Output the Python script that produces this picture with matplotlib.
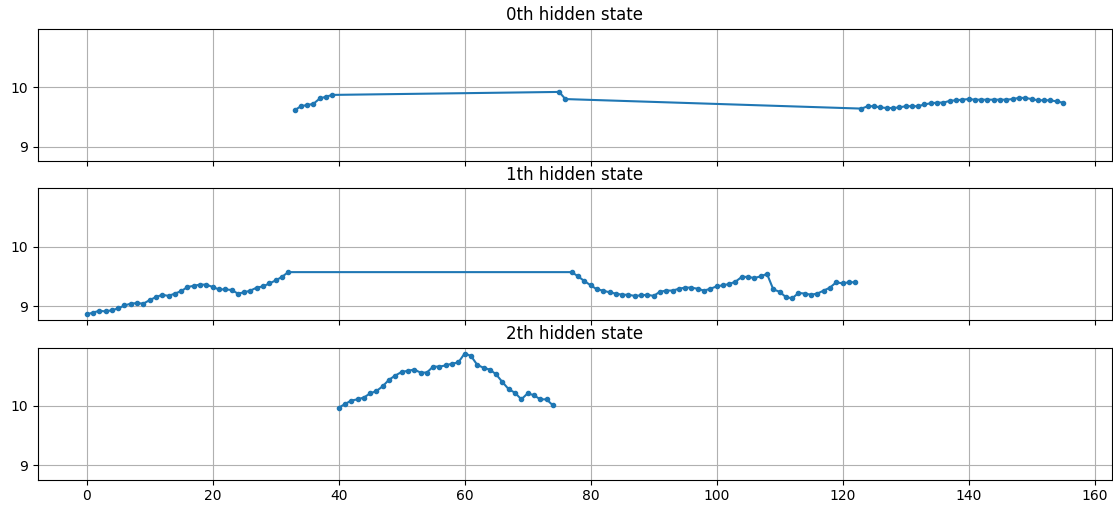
import matplotlib
matplotlib.use("Agg")
import matplotlib.pyplot as plt

# time steps assigned to each hidden state
x_state0 = list(range(33, 40)) + [75, 76] + list(range(123, 156))
x_state1 = list(range(0, 33)) + list(range(77, 123))
x_state2 = list(range(40, 75))

y_state0 = [9.61, 9.68, 9.70, 9.72, 9.81, 9.84, 9.87,
            9.92, 9.80,
            9.64, 9.68, 9.68, 9.66, 9.65, 9.65, 9.66, 9.68, 9.68, 9.68,
            9.71, 9.73, 9.74, 9.74, 9.77, 9.78, 9.79, 9.80, 9.79, 9.79,
            9.79, 9.79, 9.79, 9.79, 9.80, 9.82, 9.82, 9.80, 9.78, 9.78,
            9.78, 9.76, 9.74]

y_state1 = [8.86, 8.89, 8.92, 8.91, 8.93, 8.96, 9.01, 9.04, 9.05, 9.04,
            9.10, 9.15, 9.19, 9.17, 9.21, 9.25, 9.32, 9.34, 9.36, 9.36,
            9.32, 9.28, 9.28, 9.27, 9.21, 9.23, 9.26, 9.31, 9.33, 9.38,
            9.43, 9.49, 9.57,
            9.57, 9.50, 9.42, 9.35, 9.28, 9.26, 9.23, 9.21, 9.19, 9.19,
            9.17, 9.18, 9.19, 9.17, 9.24, 9.26, 9.26, 9.29, 9.31, 9.31,
            9.29, 9.26, 9.29, 9.33, 9.35, 9.37, 9.41, 9.49, 9.49, 9.47,
            9.50, 9.54, 9.28, 9.24, 9.15, 9.13, 9.22, 9.21, 9.19, 9.21,
            9.26, 9.31, 9.40, 9.38, 9.40, 9.40]

y_state2 = [9.97, 10.03, 10.09, 10.11, 10.14, 10.21, 10.25, 10.33, 10.44, 10.51,
            10.57, 10.59, 10.61, 10.56, 10.56, 10.66, 10.66, 10.68, 10.71, 10.73,
            10.88, 10.84, 10.69, 10.64, 10.61, 10.53, 10.40, 10.28, 10.22, 10.11,
            10.21, 10.18, 10.11, 10.11, 10.01]

xs = [x_state0, x_state1, x_state2]
ys = [y_state0, y_state1, y_state2]

fig, axes = plt.subplots(3, 1, sharex=True, sharey=True, figsize=(11.13, 5.05), dpi=100)
fig.subplots_adjust(left=0.034, right=0.999, top=0.943, bottom=0.05, hspace=0.205)

for i, ax in enumerate(axes):
    ax.plot(xs[i], ys[i], marker='.', color='C0')
    ax.set_title('%dth hidden state' % i, fontsize=12)
    ax.grid(True)

axes[0].set_yticks([9, 10])
axes[2].set_xticks(range(0, 161, 20))

plt.savefig('out.png')
